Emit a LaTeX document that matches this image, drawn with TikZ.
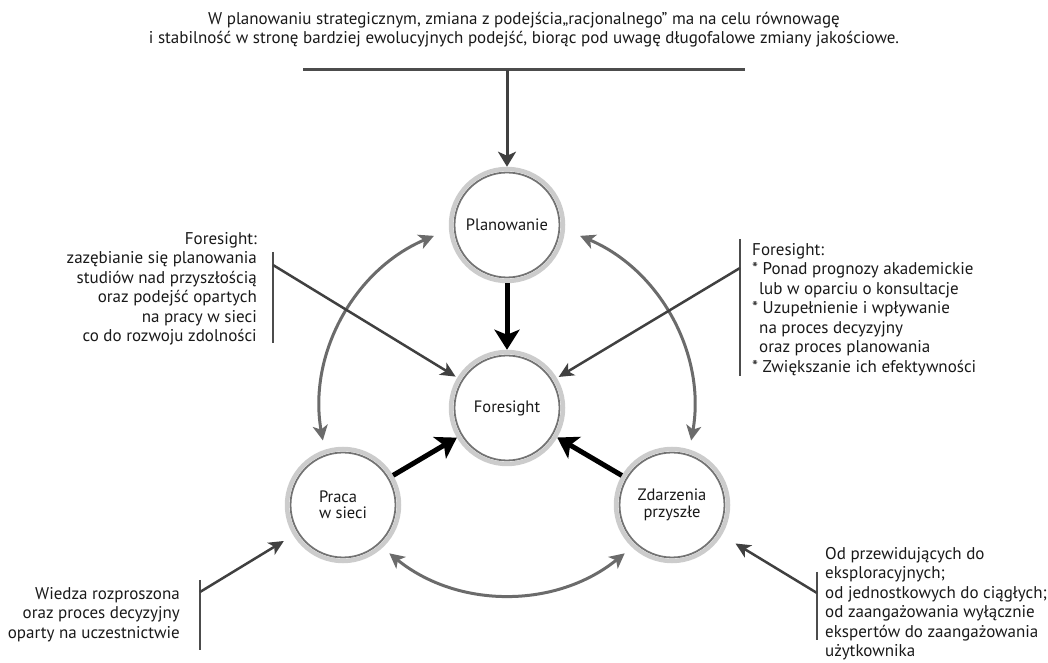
\documentclass[tikz,border=0pt]{standalone}
\usepackage{fontspec}
\setmainfont{PT Sans}
\usetikzlibrary{arrows.meta,calc}

\tikzset{
  ring/.style={circle, minimum size=112pt, inner sep=0pt, fill=white,
    draw=gray!40, line width=4.5pt, font=\fontsize{16.5}{16.5}\selectfont,
    path picture={\draw [black!55, line width=1.8pt]
      (path picture bounding box.center) circle [radius=52.5pt];}},
  push/.style={-{Stealth[length=20pt,width=25pt,inset=5pt]}, line width=5pt, black},
  loopline/.style={{Stealth[length=15pt,width=15pt,inset=4pt]}-{Stealth[length=15pt,width=15pt,inset=4pt]},
    line width=3pt, black!58},
  note/.style={-{Stealth[length=15pt,width=14pt,inset=4pt]}, line width=2.5pt, black!75},
  bar/.style={line width=2pt, black!70},
  txt/.style={inner sep=0pt, text=black!90}
}

\begin{document}
\begin{tikzpicture}[x=1pt, y=1pt, font=\fontsize{17}{19.5}\selectfont]
  \useasboundingbox (0,0) rectangle (1048,663);

  \node [ring, txt] (pl) at (507,438) {Planowanie};
  \node [ring, txt] (fs) at (507,255) {Foresight};
  \node [ring, txt, align=left] (pr) at (343,158) {Praca\\w sieci};
  \node [ring, txt, align=center] (zd) at (672,158) {Zdarzenia\\przyszłe};

  \draw [push] (pl) -- (fs);
  \draw [push] (pr) -- (fs);
  \draw [push] (zd) -- (fs);

  % big circle round Foresight
  \coordinate (c1) at ($(fs)+(190:187pt)$);
  \coordinate (c2) at ($(fs)+(67:187pt)$);
  \coordinate (c3) at ($(fs)+(231:187pt)$);
  \draw [loopline] (c1) arc [start angle=190, end angle=113, radius=187pt];
  \draw [loopline] (c2) arc [start angle=67, end angle=-10, radius=187pt];
  \draw [loopline] (c3) arc [start angle=231, end angle=309, radius=187pt];

  % top
  \node [txt, anchor=north, align=center] (top) at (524,651)
    {W planowaniu strategicznym, zmiana z podejścia„racjonalnego” ma na celu równowagę\\
     i stabilność w stronę bardziej ewolucyjnych podejść, biorąc pod uwagę długofalowe zmiany jakościowe.};
  \coordinate (tl) at (303,593);
  \coordinate (tr) at (745,593);
  \coordinate (tm) at (507,593);
  \draw [bar, line width=3pt] (tl) -- (tr);
  \draw [note, line width=3pt, -{Stealth[length=15pt,width=18pt,inset=4pt]}] (tm) -- (pl);

  % left
  \node [txt, anchor=north east, align=right] (lt) at (257,431)
    {Foresight:\\ zazębianie się planowania\\ studiów nad przyszłością\\
     oraz podejść opartych\\ na pracy w sieci\\ co do rozwoju zdolności};
  \coordinate (lb1) at (273,411);
  \coordinate (lb2) at (273,320);
  \coordinate (lbc) at (273,398);
  \draw [bar] (lb1) -- (lb2);
  \draw [note, shorten >=2pt] (lbc) -- (fs);

  % right
  \node [txt, anchor=north west, align=left] (rt) at (752,420)
    {Foresight:\\ * Ponad prognozy akademickie\\ \hspace*{7pt}lub w oparciu o konsultacje\\
     * Uzupełnienie i wpływanie\\ \hspace*{7pt}na proces decyzyjny\\
     \hspace*{7pt}oraz proces planowania\\ * Zwiększanie ich efektywności};
  \coordinate (rb1) at (740,424);
  \coordinate (rb2) at (740,287);
  \coordinate (rbc) at (740,395);
  \draw [bar] (rb1) -- (rb2);
  \draw [note, shorten >=2pt] (rbc) -- (fs);

  % bottom left
  \node [txt, anchor=north east, align=right] (blt) at (180,76)
    {Wiedza rozproszona\\ oraz proces decyzyjny\\ oparty na uczestnictwie};
  \coordinate (blb1) at (200,83);
  \coordinate (blb2) at (200,13);
  \coordinate (blbc) at (200,71);
  \draw [bar] (blb1) -- (blb2);
  \draw [note, shorten >=11pt] (blbc) -- (pr);

  % bottom right
  \node [txt, anchor=north west, align=left] (brt) at (825,116)
    {Od przewidujących do\\ eksploracyjnych;\\ od jednostkowych do ciągłych;\\
     od zaangażowania wyłącznie\\ ekspertów do zaangażowania\\ użytkownika};
  \coordinate (brb1) at (817,91);
  \coordinate (brb2) at (817,23);
  \coordinate (brbc) at (817,70);
  \draw [bar] (brb1) -- (brb2);
  \draw [note, shorten >=16pt] (brbc) -- (zd);
\end{tikzpicture}
\end{document}
